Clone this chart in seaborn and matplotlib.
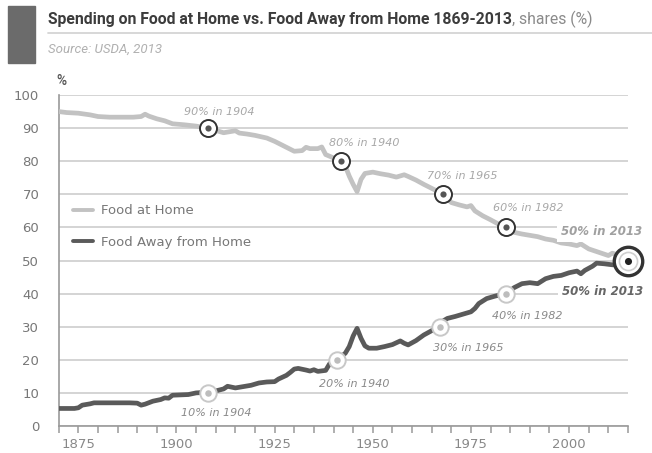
import matplotlib
matplotlib.use("Agg")
import matplotlib.pyplot as plt
import seaborn as sns
import pandas as pd
from matplotlib.patches import Rectangle
from matplotlib.lines import Line2D

# ---------------- data ----------------
home_years = [1870, 1872, 1875, 1878, 1880, 1883, 1886, 1889, 1891, 1892, 1893, 1895,
              1897, 1899, 1902, 1905, 1908, 1910, 1912, 1913, 1915, 1916, 1918, 1920,
              1923, 1925, 1927, 1929, 1930, 1932, 1933, 1934, 1936, 1937, 1938, 1940,
              1942, 1943, 1944, 1945, 1946, 1947, 1948, 1950, 1952, 1954, 1956, 1958,
              1959, 1961, 1963, 1965, 1968, 1970, 1972, 1974, 1975, 1976, 1978, 1980,
              1982, 1984, 1986, 1988, 1990, 1992, 1994, 1996, 1998, 2000, 2002, 2003,
              2005, 2008, 2010, 2011, 2013, 2015]
home_share = [95.0, 94.7, 94.5, 94.0, 93.5, 93.3, 93.3, 93.3, 93.5, 94.2, 93.6, 92.8,
              92.2, 91.3, 91.0, 90.6, 90.0, 89.3, 88.6, 88.8, 89.2, 88.5, 88.2, 87.8,
              87.0, 86.0, 84.8, 83.6, 83.0, 83.2, 84.2, 83.8, 83.8, 84.3, 82.0, 81.0,
              80.0, 78.5, 75.5, 73.0, 70.8, 74.5, 76.3, 76.7, 76.2, 75.8, 75.2, 75.9,
              75.4, 74.3, 73.0, 71.8, 70.0, 67.5, 66.8, 66.2, 66.6, 65.0, 63.5, 62.3,
              61.0, 60.0, 58.5, 58.0, 57.6, 57.2, 56.5, 56.1, 55.3, 55.0, 54.5, 55.0,
              53.5, 52.3, 51.5, 52.2, 51.5, 50.5]

away_years = [1870, 1874, 1875, 1876, 1878, 1879, 1882, 1885, 1888, 1890, 1891, 1892,
              1894, 1896, 1897, 1898, 1899, 1901, 1903, 1905, 1908, 1910, 1912, 1913,
              1915, 1917, 1919, 1921, 1923, 1925, 1926, 1928, 1929, 1930, 1931, 1933,
              1934, 1935, 1936, 1938, 1939, 1941, 1943, 1944, 1945, 1946, 1947, 1948,
              1949, 1951, 1953, 1955, 1957, 1958, 1959, 1961, 1963, 1965, 1967, 1968,
              1969, 1971, 1973, 1975, 1976, 1977, 1979, 1981, 1982, 1984, 1986, 1988,
              1990, 1992, 1994, 1996, 1998, 2000, 2002, 2003, 2004, 2006, 2007, 2009,
              2011, 2013, 2015]
away_share = [5.3, 5.3, 5.5, 6.3, 6.7, 7.0, 7.0, 7.0, 7.0, 6.9, 6.3, 6.6,
              7.5, 8.0, 8.5, 8.4, 9.3, 9.4, 9.5, 10.0, 10.2, 10.6, 11.2, 12.0,
              11.5, 11.9, 12.3, 13.0, 13.3, 13.4, 14.2, 15.3, 16.2, 17.2, 17.4, 16.9,
              16.6, 17.0, 16.5, 16.8, 18.8, 20.0, 22.0, 24.0, 27.2, 29.5, 26.5, 24.2,
              23.5, 23.5, 24.0, 24.6, 25.7, 25.0, 24.5, 25.8, 27.5, 28.8, 30.0, 31.8,
              32.5, 33.1, 33.8, 34.5, 35.5, 37.0, 38.5, 39.2, 39.5, 40.0, 41.8, 43.0,
              43.3, 43.0, 44.5, 45.2, 45.5, 46.3, 46.8, 46.0, 47.0, 48.3, 49.2, 49.0,
              48.7, 48.6, 50.0]

series_names = ["Food at Home", "Food Away from Home"]

home_mark_years = [1908, 1942, 1968, 1984]
home_mark_vals = [90, 80, 70, 60]
home_mark_labels = ["90% in 1904", "80% in 1940", "70% in 1965", "60% in 1982"]
away_mark_years = [1908, 1941, 1967, 1984]
away_mark_vals = [10, 20, 30, 40]
away_mark_labels = ["10% in 1904", "20% in 1940", "30% in 1965", "40% in 1982"]
final_year, final_val = 2015, 50
final_label = "50% in 2013"

y_ticks = list(range(0, 101, 10))
x_major = [1875, 1900, 1925, 1950, 1975, 2000]
x_minor = list(range(1870, 2016, 5))

title = "Spending on Food at Home vs. Food Away from Home 1869-2013"
title_suffix = ", shares (%)"
source = "Source: USDA, 2013"

# ---------------- styling ----------------
sns.set_style("white")
plt.rcParams['font.family'] = ['DejaVu Sans']

W, H = 652, 453
fig = plt.figure(figsize=(W / 100, H / 100), dpi=100)
fx = lambda px: px / W
fy = lambda py: 1 - py / H

ax = fig.add_axes([fx(58.7), fy(426), fx(628) - fx(58.7), fy(95) - fy(426)])

df = pd.concat([
    pd.DataFrame({"year": home_years, "share": home_share, "series": series_names[0]}),
    pd.DataFrame({"year": away_years, "share": away_share, "series": series_names[1]}),
])
HOME_C, AWAY_C = "#c2c2c2", "#5a5a5a"
palette = {series_names[0]: HOME_C, series_names[1]: AWAY_C}
sns.lineplot(data=df, x="year", y="share", hue="series", palette=palette,
             linewidth=3.4, ax=ax, legend=False, zorder=3, estimator=None,
             sort=False)

ax.set_xlim(1870, 2015)
ax.set_ylim(0, 100)
ax.set_xlabel("")
ax.set_ylabel("")
ax.set_yticks(y_ticks)
ax.set_xticks(x_major)
ax.set_xticks(x_minor, minor=True)
ax.grid(axis="y", color="#c9c9c9", linewidth=1.1, zorder=0)
ax.grid(axis="x", visible=False)
ax.set_axisbelow(True)
for s in ["top", "right"]:
    ax.spines[s].set_visible(False)
for s in ["left", "bottom"]:
    ax.spines[s].set_color("#9a9a9a")
    ax.spines[s].set_linewidth(1.2)
ax.tick_params(axis="y", length=0, pad=14, labelsize=9.5, labelcolor="#777777")
ax.tick_params(axis="x", which="both", direction="out", length=5, width=1.1,
               color="#9a9a9a", labelsize=9.5, labelcolor="#888888", pad=4,
               bottom=True)
ax.tick_params(axis="x", which="minor", labelbottom=False)

# legend
handles = [Line2D([0], [0], color=HOME_C, lw=2.8), Line2D([0], [0], color=AWAY_C, lw=2.8)]
leg = ax.legend(handles, series_names, loc="center left",
                bbox_to_anchor=(fx(66), fy(226.5)), bbox_transform=fig.transFigure,
                frameon=False, fontsize=9.5, handlelength=1.55, handletextpad=0.6,
                labelspacing=1.38, borderpad=0)
for t in leg.get_texts():
    t.set_color("#777777")

# markers
for yv, xv in zip(home_mark_vals, home_mark_years):
    ax.scatter([xv], [yv], s=150, facecolor="white", edgecolor="#333333",
               linewidth=1.4, zorder=5, clip_on=False)
    ax.scatter([xv], [yv], s=20, color="#555555", zorder=6, clip_on=False, linewidth=0)
for yv, xv in zip(away_mark_vals, away_mark_years):
    ax.scatter([xv], [yv], s=140, facecolor="white", edgecolor="#c8c8c8",
               linewidth=1.4, zorder=5, clip_on=False)
    ax.scatter([xv], [yv], s=22, color="#bdbdbd", zorder=6, clip_on=False, linewidth=0)
ax.scatter([final_year], [final_val], s=420, facecolor="white", edgecolor="#333333",
           linewidth=2.4, zorder=7, clip_on=False)
ax.scatter([final_year], [final_val], s=170, facecolor="white", edgecolor="#cfcfcf",
           linewidth=1.2, zorder=8, clip_on=False)
ax.scatter([final_year], [final_val], s=26, color="#222222", zorder=9, clip_on=False,
           linewidth=0)

# annotation labels (offsets in pixels)
home_offsets = [(11, 16), (23, 18), (19, 18), (22, 19)]
away_offsets = [(8, -20), (17, -24), (29, -21), (21, -22)]
for lab, xv, yv, off in zip(home_mark_labels, home_mark_years, home_mark_vals, home_offsets):
    ax.annotate(lab, (xv, yv), xytext=off, textcoords="offset pixels",
                ha="center", va="center", fontsize=8, style="italic",
                color="#a8a8a8", zorder=10, annotation_clip=False)
for lab, xv, yv, off in zip(away_mark_labels, away_mark_years, away_mark_vals, away_offsets):
    ax.annotate(lab, (xv, yv), xytext=off, textcoords="offset pixels",
                ha="center", va="center", fontsize=8, style="italic",
                color="#8a8a8a", zorder=10, annotation_clip=False)
ax.annotate(final_label, (final_year, final_val), xytext=(-26, 29),
            textcoords="offset pixels", ha="center", va="center", fontsize=8.5,
            style="italic", weight="bold", color="#a0a0a0", zorder=10,
            annotation_clip=False,
            bbox=dict(boxstyle="square,pad=0.35", fc="white", ec="none"))
ax.annotate(final_label, (final_year, final_val), xytext=(-25, -31),
            textcoords="offset pixels", ha="center", va="center", fontsize=8.5,
            style="italic", weight="bold", color="#666666", zorder=10,
            annotation_clip=False,
            bbox=dict(boxstyle="square,pad=0.35", fc="white", ec="none"))

# header
fig.patches.append(Rectangle((fx(8), fy(63)), fx(35) - fx(8), fy(6) - fy(63),
                             transform=fig.transFigure, color="#6b6b6b", zorder=1))
t_title = fig.text(fx(48), fy(24), title, fontsize=11.35, weight="bold",
                   color="#3c3c3c", family=["Roboto", "DejaVu Sans"], va="baseline")
fig.canvas.draw()
bb = t_title.get_window_extent()
fig.text(bb.x1 / W, fy(24), title_suffix, fontsize=11.35, color="#8a8a8a",
         family=["Roboto", "DejaVu Sans"], va="baseline")
fig.add_artist(Line2D([fx(48), 1.0], [fy(33), fy(33)], transform=fig.transFigure,
                      color="#d4d4d4", lw=1.3))
fig.text(fx(48), fy(49), source, fontsize=9.5, style="italic", color="#b0b0b0",
         family=["Roboto", "DejaVu Sans"], va="center")
fig.text(fx(56), fy(81), "%", fontsize=10, color="#555555", va="center",
         family=["Roboto", "DejaVu Sans"], weight="medium")

fig.savefig("out.png", dpi=100, facecolor="white")
